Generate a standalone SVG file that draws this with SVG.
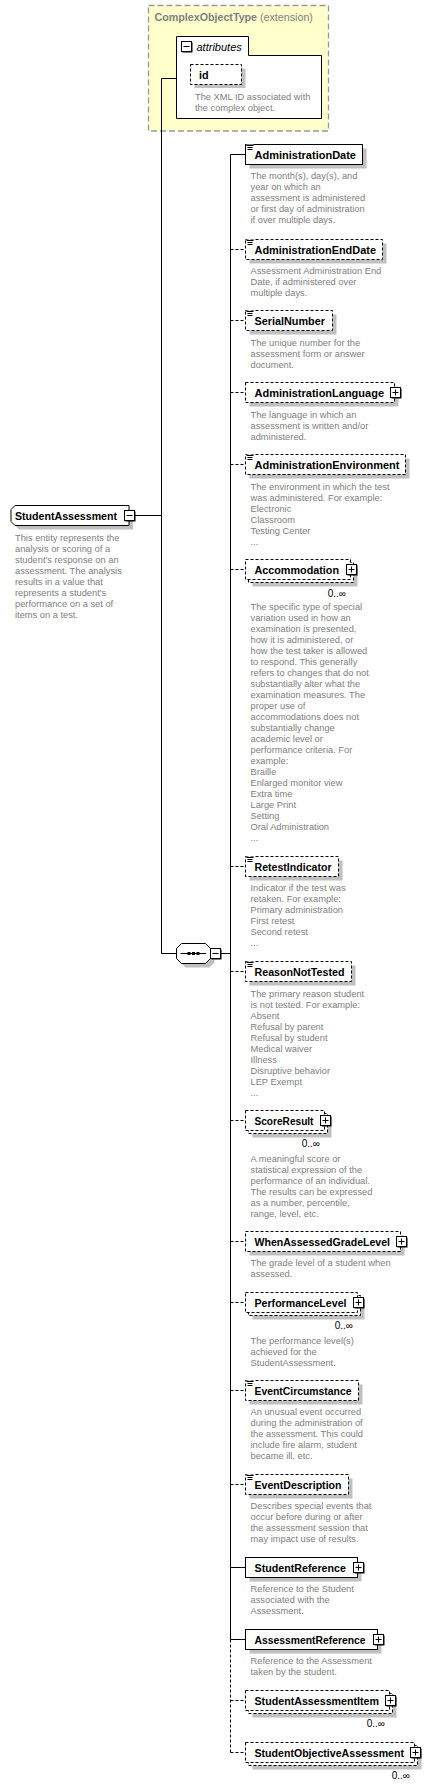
<svg xmlns="http://www.w3.org/2000/svg" width="447" height="1787" viewBox="0 0 447 1787">
<style>
.bx{fill:#fff;stroke:#000;stroke-width:1}
.db{fill:#fff;stroke:#000;stroke-width:1;stroke-dasharray:3,2}
.sh{fill:#c0c0c0}
.ln{fill:none;stroke:#000;stroke-width:1}
.dl{fill:none;stroke:#000;stroke-width:1;stroke-dasharray:3,2}
.lbl{font-family:'Liberation Sans',Arial,sans-serif;font-weight:bold;font-size:10.8px;fill:#000}
.desc{font-family:'Liberation Sans',Arial,sans-serif;font-size:9.3px;fill:#808080}
.occ{font-family:'Liberation Sans',Arial,sans-serif;font-size:10px;fill:#000;text-anchor:end}
.pm{fill:#fff;stroke:#000;stroke-width:1}
</style>
<defs>
<g id="plus"><path d="M1,1 h10 v10 h-10 z" fill="#000"/><rect x="0" y="0" width="10" height="10" class="pm"/><path d="M2,5 h6 M5,2 v6" stroke="#000" stroke-width="1"/></g>
<g id="minus"><path d="M1,1 h10 v10 h-10 z" fill="#000"/><rect x="0" y="0" width="10" height="10" class="pm"/><path d="M2,5 h6" stroke="#000" stroke-width="1"/></g>
<g id="icon"><rect x="0.5" y="-0.5" width="7" height="6" fill="#fff"/><path d="M0.5,0.5 h7 M1.5,2.5 h5 M1.5,4.5 h5" stroke="#000" stroke-width="1"/></g>
</defs>

<!-- extension base type -->
<g id="ComplexObjectType">
<rect x="148.5" y="5.5" width="180" height="125.5" fill="#ffffcc" stroke="#999" stroke-width="1.3" stroke-dasharray="6,3"/>
<text x="154.5" y="21" font-family="'Liberation Sans',Arial,sans-serif" font-size="10.7px" fill="#808080"><tspan font-weight="bold">ComplexObjectType</tspan> (extension)</text>
</g>
<g id="attributes">
<polygon points="176.5,36.5 248.5,36.5 248.5,55.5 321.5,55.5 321.5,118.5 176.5,118.5" class="bx"/>
<use href="#minus" x="181.5" y="41.5"/>
<text x="196.5" y="51" font-family="'Liberation Sans',Arial,sans-serif" font-style="italic" font-size="11px">attributes</text>
</g>
<g id="attr-id">
<rect x="194.5" y="68.5" width="51" height="19.5" class="sh"/>
<rect x="190.5" y="64.5" width="51" height="20" class="db"/>
<text x="199" y="79" class="lbl">id</text>
<text class="desc"><tspan x="195" y="100">The XML ID associated with</tspan><tspan x="195" y="111">the complex object.</tspan></text>
</g>

<!-- connectors -->
<g id="connectors">
<path d="M161.5,78.5 H176.5" class="ln"/>
<path d="M161.5,78.5 V953.5 H176.5" class="ln"/>
<path d="M135,515.5 H161.5" class="ln"/>
<path d="M220.5,953.5 H230.5" class="ln"/>
<path d="M230.5,154.5 V1639.5" class="ln"/>
<path d="M230.5,1639.5 V1752.5" class="dl"/>
<path d="M230.5,154.5 H245.5" class="ln"/>
<path d="M230.5,249.5 H245.5" class="dl"/>
<path d="M230.5,320.5 H245.5" class="dl"/>
<path d="M230.5,392.5 H245.5" class="dl"/>
<path d="M230.5,464.5 H245.5" class="dl"/>
<path d="M230.5,569.5 H245.5" class="dl"/>
<path d="M230.5,866.5 H245.5" class="dl"/>
<path d="M230.5,971.5 H245.5" class="dl"/>
<path d="M230.5,1120.5 H245.5" class="dl"/>
<path d="M230.5,1241.5 H245.5" class="dl"/>
<path d="M230.5,1302.5 H245.5" class="dl"/>
<path d="M230.5,1390.5 H245.5" class="dl"/>
<path d="M230.5,1484.5 H245.5" class="dl"/>
<path d="M230.5,1567.5 H245.5" class="ln"/>
<path d="M230.5,1639.5 H245.5" class="ln"/>
<path d="M230.5,1700.5 H245.5" class="dl"/>
<path d="M230.5,1752.5 H245.5" class="dl"/>
</g>

<!-- root element -->
<g id="StudentAssessment">
<polygon points="19,509.5 133,509.5 133,529.5 19,529.5 15,525.5 15,513.5" class="sh"/>
<polygon points="15,505.5 129,505.5 129,525.5 15,525.5 11,521.5 11,509.5" class="bx"/>
<text x="15" y="520" class="lbl" textLength="102" lengthAdjust="spacingAndGlyphs">StudentAssessment</text>
<use href="#minus" x="124.5" y="510.5"/>
<text class="desc"><tspan x="15" y="540.5">This entity represents the</tspan><tspan x="15" dy="11">analysis or scoring of a</tspan><tspan x="15" dy="11">student's response on an</tspan><tspan x="15" dy="11">assessment. The analysis</tspan><tspan x="15" dy="11">results in a value that</tspan><tspan x="15" dy="11">represents a student's</tspan><tspan x="15" dy="11">performance on a set of</tspan><tspan x="15" dy="11">items on a test.</tspan></text>
</g>

<!-- sequence -->
<g id="sequence">
<polygon points="185.5,947.5 210.5,947.5 214.5,952.5 214.5,962.5 209.5,967.5 185.5,967.5 180.5,962.5 180.5,952.5" class="sh"/>
<polygon points="181.5,943.5 205.5,943.5 210.5,948.5 210.5,958.5 205.5,963.5 181.5,963.5 176.5,958.5 176.5,948.5" class="bx"/>
<path d="M180.5,953.5 H206" class="ln"/>
<rect x="187.5" y="952" width="3" height="3"/>
<rect x="192" y="952" width="3" height="3"/>
<rect x="196.5" y="952" width="3" height="3"/>
<use href="#minus" x="210.5" y="948.5"/>
</g>

<!-- children -->
<g id="AdministrationDate">
<rect x="249.5" y="148.5" width="117" height="20" class="sh"/>
<rect x="245.5" y="144.5" width="117" height="20" class="bx"/>
<use href="#icon" x="246" y="145"/>
<text x="254.5" y="159" class="lbl" textLength="101.5" lengthAdjust="spacingAndGlyphs">AdministrationDate</text>
<text class="desc"><tspan x="250.5" y="179">The month(s), day(s), and</tspan><tspan x="250.5" dy="11">year on which an</tspan><tspan x="250.5" dy="11">assessment is administered</tspan><tspan x="250.5" dy="11">or first day of administration</tspan><tspan x="250.5" dy="11">if over multiple days.</tspan></text>
</g>

<g id="AdministrationEndDate">
<rect x="249.5" y="243.5" width="137" height="20" class="sh"/>
<rect x="245.5" y="239.5" width="137" height="20" class="db"/>
<use href="#icon" x="246" y="240"/>
<text x="254.5" y="254" class="lbl" textLength="121.5" lengthAdjust="spacingAndGlyphs">AdministrationEndDate</text>
<text class="desc"><tspan x="250.5" y="273.5">Assessment Administration End</tspan><tspan x="250.5" dy="11">Date, if administered over</tspan><tspan x="250.5" dy="11">multiple days.</tspan></text>
</g>

<g id="SerialNumber">
<rect x="249.5" y="314.5" width="87" height="20" class="sh"/>
<rect x="245.5" y="310.5" width="87" height="20" class="db"/>
<use href="#icon" x="246" y="311"/>
<text x="254.5" y="325" class="lbl" textLength="70.5" lengthAdjust="spacingAndGlyphs">SerialNumber</text>
<text class="desc"><tspan x="250.5" y="345.5">The unique number for the</tspan><tspan x="250.5" dy="11">assessment form or answer</tspan><tspan x="250.5" dy="11">document.</tspan></text>
</g>

<g id="AdministrationLanguage">
<rect x="249.5" y="386.5" width="149" height="20" class="sh"/>
<rect x="245.5" y="382.5" width="149" height="20" class="db"/>
<text x="254.5" y="397" class="lbl" textLength="129.5" lengthAdjust="spacingAndGlyphs">AdministrationLanguage</text>
<use href="#plus" x="390.5" y="387.5"/>
<text class="desc"><tspan x="250.5" y="417.5">The language in which an</tspan><tspan x="250.5" dy="11">assessment is written and/or</tspan><tspan x="250.5" dy="11">administered.</tspan></text>
</g>

<g id="AdministrationEnvironment">
<rect x="249.5" y="458.5" width="160" height="20" class="sh"/>
<rect x="245.5" y="454.5" width="160" height="20" class="db"/>
<use href="#icon" x="246" y="455"/>
<text x="254.5" y="469" class="lbl" textLength="145" lengthAdjust="spacingAndGlyphs">AdministrationEnvironment</text>
<text class="desc"><tspan x="250.5" y="489.5">The environment in which the test</tspan><tspan x="250.5" dy="11">was administered. For example:</tspan><tspan x="250.5" dy="11">Electronic</tspan><tspan x="250.5" dy="11">Classroom</tspan><tspan x="250.5" dy="11">Testing Center</tspan><tspan x="250.5" dy="11">...</tspan></text>
</g>

<g id="Accommodation">
<rect x="252.5" y="566.5" width="105" height="20" class="sh"/>
<rect x="248.5" y="562.5" width="105" height="20" class="db"/>
<rect x="245.5" y="559.5" width="105" height="20" class="db"/>
<text x="254.5" y="574" class="lbl" textLength="84.5" lengthAdjust="spacingAndGlyphs">Accommodation</text>
<use href="#plus" x="346.5" y="564.5"/>
<text x="346" y="596.5" class="occ">0..∞</text>
<text class="desc"><tspan x="250.5" y="610">The specific type of special</tspan><tspan x="250.5" dy="11">variation used in how an</tspan><tspan x="250.5" dy="11">examination is presented,</tspan><tspan x="250.5" dy="11">how it is administered, or</tspan><tspan x="250.5" dy="11">how the test taker is allowed</tspan><tspan x="250.5" dy="11">to respond. This generally</tspan><tspan x="250.5" dy="11">refers to changes that do not</tspan><tspan x="250.5" dy="11">substantially alter what the</tspan><tspan x="250.5" dy="11">examination measures. The</tspan><tspan x="250.5" dy="11">proper use of</tspan><tspan x="250.5" dy="11">accommodations does not</tspan><tspan x="250.5" dy="11">substantially change</tspan><tspan x="250.5" dy="11">academic level or</tspan><tspan x="250.5" dy="11">performance criteria. For</tspan><tspan x="250.5" dy="11">example:</tspan><tspan x="250.5" dy="11">Braille</tspan><tspan x="250.5" dy="11">Enlarged monitor view</tspan><tspan x="250.5" dy="11">Extra time</tspan><tspan x="250.5" dy="11">Large Print</tspan><tspan x="250.5" dy="11">Setting</tspan><tspan x="250.5" dy="11">Oral Administration</tspan><tspan x="250.5" dy="11">...</tspan></text>
</g>

<g id="RetestIndicator">
<rect x="249.5" y="860.5" width="93" height="20" class="sh"/>
<rect x="245.5" y="856.5" width="93" height="20" class="db"/>
<use href="#icon" x="246" y="857"/>
<text x="254.5" y="871" class="lbl" textLength="77" lengthAdjust="spacingAndGlyphs">RetestIndicator</text>
<text class="desc"><tspan x="250.5" y="891">Indicator if the test was</tspan><tspan x="250.5" dy="11">retaken. For example:</tspan><tspan x="250.5" dy="11">Primary administration</tspan><tspan x="250.5" dy="11">First retest</tspan><tspan x="250.5" dy="11">Second retest</tspan><tspan x="250.5" dy="11">...</tspan></text>
</g>

<g id="ReasonNotTested">
<rect x="249.5" y="965.5" width="106" height="20" class="sh"/>
<rect x="245.5" y="961.5" width="106" height="20" class="db"/>
<use href="#icon" x="246" y="962"/>
<text x="254.5" y="976" class="lbl" textLength="90" lengthAdjust="spacingAndGlyphs">ReasonNotTested</text>
<text class="desc"><tspan x="250.5" y="996.5">The primary reason student</tspan><tspan x="250.5" dy="11">is not tested. For example:</tspan><tspan x="250.5" dy="11">Absent</tspan><tspan x="250.5" dy="11">Refusal by parent</tspan><tspan x="250.5" dy="11">Refusal by student</tspan><tspan x="250.5" dy="11">Medical waiver</tspan><tspan x="250.5" dy="11">Illness</tspan><tspan x="250.5" dy="11">Disruptive behavior</tspan><tspan x="250.5" dy="11">LEP Exempt</tspan><tspan x="250.5" dy="11">...</tspan></text>
</g>

<g id="ScoreResult">
<rect x="252.5" y="1117.5" width="79" height="20" class="sh"/>
<rect x="248.5" y="1113.5" width="79" height="20" class="db"/>
<rect x="245.5" y="1110.5" width="79" height="20" class="db"/>
<text x="254.5" y="1125" class="lbl" textLength="59" lengthAdjust="spacingAndGlyphs">ScoreResult</text>
<use href="#plus" x="320.5" y="1115.5"/>
<text x="320" y="1147" class="occ">0..∞</text>
<text class="desc"><tspan x="250.5" y="1161.5">A meaningful score or</tspan><tspan x="250.5" dy="11">statistical expression of the</tspan><tspan x="250.5" dy="11">performance of an individual.</tspan><tspan x="250.5" dy="11">The results can be expressed</tspan><tspan x="250.5" dy="11">as a number, percentile,</tspan><tspan x="250.5" dy="11">range, level, etc.</tspan></text>
</g>

<g id="WhenAssessedGradeLevel">
<rect x="249.5" y="1235.5" width="155" height="20" class="sh"/>
<rect x="245.5" y="1231.5" width="155" height="20" class="db"/>
<text x="254.5" y="1246" class="lbl" textLength="135.5" lengthAdjust="spacingAndGlyphs">WhenAssessedGradeLevel</text>
<use href="#plus" x="396.5" y="1236.5"/>
<text class="desc"><tspan x="250.5" y="1266">The grade level of a student when</tspan><tspan x="250.5" dy="11">assessed.</tspan></text>
</g>

<g id="PerformanceLevel">
<rect x="252.5" y="1299.5" width="112" height="20" class="sh"/>
<rect x="248.5" y="1295.5" width="112" height="20" class="db"/>
<rect x="245.5" y="1292.5" width="112" height="20" class="db"/>
<text x="254.5" y="1307" class="lbl" textLength="92" lengthAdjust="spacingAndGlyphs">PerformanceLevel</text>
<use href="#plus" x="353.5" y="1297.5"/>
<text x="353" y="1329" class="occ">0..∞</text>
<text class="desc"><tspan x="250.5" y="1343.5">The performance level(s)</tspan><tspan x="250.5" dy="11">achieved for the</tspan><tspan x="250.5" dy="11">StudentAssessment.</tspan></text>
</g>

<g id="EventCircumstance">
<rect x="249.5" y="1384.5" width="113" height="20" class="sh"/>
<rect x="245.5" y="1380.5" width="113" height="20" class="db"/>
<use href="#icon" x="246" y="1381"/>
<text x="254.5" y="1395" class="lbl" textLength="97" lengthAdjust="spacingAndGlyphs">EventCircumstance</text>
<text class="desc"><tspan x="250.5" y="1415">An unusual event occurred</tspan><tspan x="250.5" dy="11">during the administration of</tspan><tspan x="250.5" dy="11">the assessment. This could</tspan><tspan x="250.5" dy="11">include fire alarm, student</tspan><tspan x="250.5" dy="11">became ill, etc.</tspan></text>
</g>

<g id="EventDescription">
<rect x="249.5" y="1478.5" width="103" height="20" class="sh"/>
<rect x="245.5" y="1474.5" width="103" height="20" class="db"/>
<use href="#icon" x="246" y="1475"/>
<text x="254.5" y="1489" class="lbl" textLength="87" lengthAdjust="spacingAndGlyphs">EventDescription</text>
<text class="desc"><tspan x="250.5" y="1509">Describes special events that</tspan><tspan x="250.5" dy="11">occur before during or after</tspan><tspan x="250.5" dy="11">the assessment session that</tspan><tspan x="250.5" dy="11">may impact use of results.</tspan></text>
</g>

<g id="StudentReference">
<rect x="249.5" y="1561.5" width="112" height="20" class="sh"/>
<rect x="245.5" y="1557.5" width="112" height="20" class="bx"/>
<text x="254.5" y="1572" class="lbl" textLength="91.5" lengthAdjust="spacingAndGlyphs">StudentReference</text>
<use href="#plus" x="353.5" y="1562.5"/>
<text class="desc"><tspan x="250.5" y="1592">Reference to the Student</tspan><tspan x="250.5" dy="11">associated with the</tspan><tspan x="250.5" dy="11">Assessment.</tspan></text>
</g>

<g id="AssessmentReference">
<rect x="249.5" y="1633.5" width="132" height="20" class="sh"/>
<rect x="245.5" y="1629.5" width="132" height="20" class="bx"/>
<text x="254.5" y="1644" class="lbl" textLength="111" lengthAdjust="spacingAndGlyphs">AssessmentReference</text>
<use href="#plus" x="373.5" y="1634.5"/>
<text class="desc"><tspan x="250.5" y="1664">Reference to the Assessment</tspan><tspan x="250.5" dy="11">taken by the student.</tspan></text>
</g>

<g id="StudentAssessmentItem">
<rect x="252.5" y="1697.5" width="144" height="20" class="sh"/>
<rect x="248.5" y="1693.5" width="144" height="20" class="db"/>
<rect x="245.5" y="1690.5" width="144" height="20" class="db"/>
<text x="254.5" y="1705" class="lbl" textLength="124.5" lengthAdjust="spacingAndGlyphs">StudentAssessmentItem</text>
<use href="#plus" x="385.5" y="1695.5"/>
<text x="385" y="1727" class="occ">0..∞</text>
</g>

<g id="StudentObjectiveAssessment">
<rect x="252.5" y="1749.5" width="169" height="20" class="sh"/>
<rect x="248.5" y="1745.5" width="169" height="20" class="db"/>
<rect x="245.5" y="1742.5" width="169" height="20" class="db"/>
<text x="254.5" y="1757" class="lbl" textLength="149.5" lengthAdjust="spacingAndGlyphs">StudentObjectiveAssessment</text>
<use href="#plus" x="410.5" y="1747.5"/>
<text x="410" y="1779" class="occ">0..∞</text>
</g>
</svg>
